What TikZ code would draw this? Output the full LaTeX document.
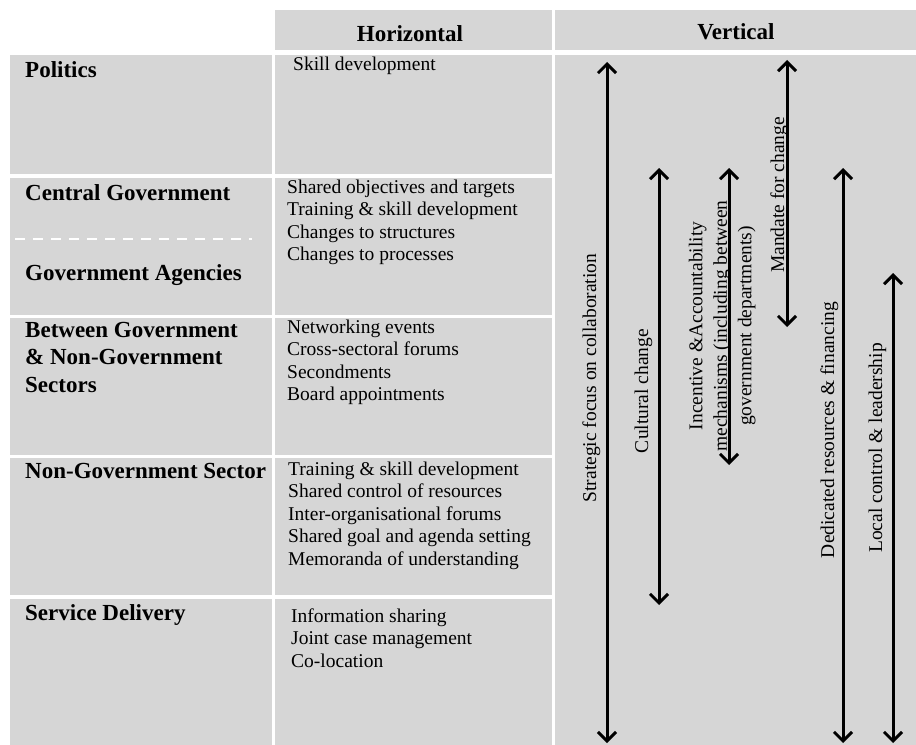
\documentclass[tikz,border=0pt]{standalone}
\usepackage{fontspec}
\setmainfont{Liberation Serif}
\usetikzlibrary{arrows.meta}
\definecolor{cellgray}{RGB}{214,214,214}
\newcommand{\cellrows}[1]{\begin{tabular}[t]{@{}l@{}}#1\end{tabular}}
\newcommand{\cellrowsc}[1]{\begin{tabular}[c]{@{}c@{}}#1\end{tabular}}
\begin{document}
\begin{tikzpicture}[x=1bp,y=-1bp,
  cellfill/.style={fill=cellgray},
  hitem/.style={anchor=base west, inner sep=0pt, font=\fontsize{19.5bp}{22.6bp}\selectfont},
  lhead/.style={anchor=base west, inner sep=0pt, font=\fontsize{23bp}{27.5bp}\selectfont\bfseries},
  colhead/.style={anchor=base, inner sep=0pt, font=\fontsize{23bp}{27.5bp}\selectfont\bfseries},
  vlabel/.style={anchor=base, rotate=90, inner sep=0pt, font=\fontsize{19.5bp}{24.5bp}\selectfont},
  barb/.tip={Straight Barb[length=9bp,width=18bp]},
  biarrow/.style={line width=3bp, barb-barb},
  sepdash/.style={draw=white, line width=2.5bp, dash pattern=on 10bp off 8bp}
]
\useasboundingbox (0,0) rectangle (916,745);
\fill[white] (0,0) rectangle (916,745);
% header cells
\fill[cellfill] (275,10) rectangle (552,50);
\fill[cellfill] (555,10) rectangle (916,50);
% left and horizontal cells
\foreach \ya/\yb in {55/174,178/315,318/455,458/595,599/745}{
  \fill[cellfill] (10,\ya) rectangle (272,\yb);
  \fill[cellfill] (275,\ya) rectangle (552,\yb);
}
% vertical cell
\fill[cellfill] (555,55) rectangle (916,745);
% dashed separator
\coordinate (dashL) at (15,239);
\coordinate (dashR) at (252,239);
\draw[sepdash] (dashL) -- (dashR);

% column headers
\node[colhead] (hHoriz) at (410,42) {Horizontal};
\node[colhead] (hVert) at (736,40) {Vertical};

% row headers
\node[lhead] (rPol) at (25,78) {Politics};
\node[lhead] (rCen) at (25,200) {Central Government};
\node[lhead] (rAge) at (25,280) {Government Agencies};
\node[lhead] (rBet) at (25,337) {\cellrows{Between Government\\ \& Non-Government\\ Sectors}};
\node[lhead] (rNon) at (25,478) {Non-Government Sector};
\node[lhead] (rSer) at (25,620) {Service Delivery};

% horizontal items
\node[hitem] (iPol) at (293,71) {Skill development};
\node[hitem] (iCen) at (287,193) {\cellrows{Shared objectives and targets\\ Training \& skill development\\ Changes to structures\\ Changes to processes}};
\node[hitem] (iBet) at (287,333) {\cellrows{Networking events\\ Cross-sectoral forums\\ Secondments\\ Board appointments}};
\node[hitem] (iNon) at (288,475) {\cellrows{Training \& skill development\\ Shared control of resources\\ Inter-organisational forums\\ Shared goal and agenda setting\\ Memoranda of understanding}};
\node[hitem] (iSer) at (291,622) {\cellrows{Information sharing\\ Joint case management\\ Co-location}};

% vertical arrows
\coordinate (a1t) at (607,62);  \coordinate (a1b) at (607,743);
\coordinate (a2t) at (659,168); \coordinate (a2b) at (659,605);
\coordinate (a3t) at (729,168); \coordinate (a3b) at (729,465);
\coordinate (a4t) at (787,60);  \coordinate (a4b) at (787,327);
\coordinate (a5t) at (843,168); \coordinate (a5b) at (843,743);
\coordinate (a6t) at (893,273); \coordinate (a6b) at (893,743);
\draw[biarrow] (a1t) -- (a1b);
\draw[biarrow] (a2t) -- (a2b);
\draw[biarrow] (a3t) -- (a3b);
\draw[biarrow] (a4t) -- (a4b);
\draw[biarrow] (a5t) -- (a5b);
\draw[biarrow] (a6t) -- (a6b);

% vertical labels
\node[vlabel] (vStr) at (596,378) {Strategic focus on collaboration};
\node[vlabel] (vCul) at (648,391) {Cultural change};
\node[vlabel, anchor=center] (vInc) at (722,326) {\cellrowsc{Incentive \&Accountability\\ mechanisms (including between\\ government departments)}};
\node[vlabel] (vMan) at (784,195) {Mandate for change};
\node[vlabel] (vDed) at (834,430) {Dedicated resources \& financing};
\node[vlabel] (vLoc) at (882,448) {Local control \& leadership};
\end{tikzpicture}
\end{document}
